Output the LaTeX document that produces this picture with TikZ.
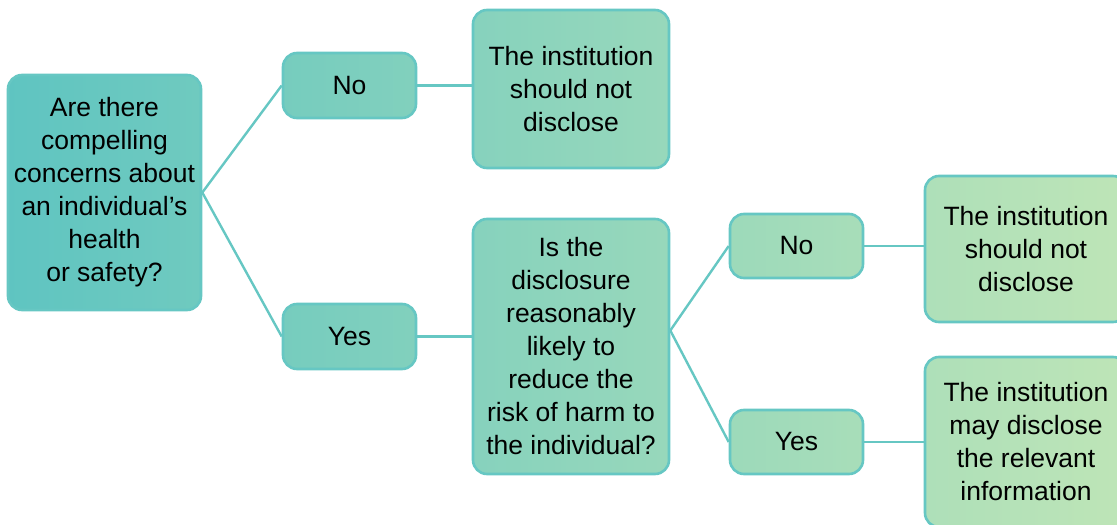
\documentclass[tikz,border=0pt]{standalone}
\usepackage{fontspec}
\setmainfont{Liberation Sans}
\definecolor{gradA}{HTML}{5EC4C1}
\definecolor{gradB}{HTML}{BEE5B7}
\definecolor{edge}{HTML}{66C7C3}
\begin{document}
\begin{tikzpicture}[x=1pt, y=-1pt,
  box/.style={draw=edge, line width=2.6pt, rounded corners=14pt, align=center,
    inner sep=0pt, font=\fontsize{26.5}{33}\selectfont},
  grad/.style 2 args={left color=gradB!#1!gradA, right color=gradB!#2!gradA},
  link/.style={draw=edge, line width=2.4pt}]
  \useasboundingbox (0,0) rectangle (1117,525);
  \clip (0,0) rectangle (1117,525);
  \node[box, grad={1}{18}, minimum width=193pt, minimum height=235pt] (q1) at (104.5,192.5)
    {Are there\\compelling\\concerns about\\an individual’s\\health\\or safety?};
  \node[box, grad={25}{37}, minimum width=133pt, minimum height=65pt] (no1) at (349.5,85.5) {No};
  \node[box, grad={25}{37}, minimum width=133pt, minimum height=65pt] (yes1) at (349.5,336.5) {Yes};
  \node[box, grad={42}{60}, minimum width=196pt, minimum height=158pt] (r1) at (571,89)
    {The institution\\should not\\disclose};
  \node[box, grad={42}{60}, minimum width=196pt, minimum height=255pt] (q2) at (571,346.5)
    {Is the\\disclosure\\reasonably\\likely to\\reduce the\\risk of harm to\\the individual?};
  \node[box, grad={65}{77}, minimum width=133pt, minimum height=64pt] (no2) at (796.5,246) {No};
  \node[box, grad={65}{77}, minimum width=133pt, minimum height=64pt] (yes2) at (796.5,442) {Yes};
  \node[box, grad={83}{100}, minimum width=202pt, minimum height=146pt] (r2) at (1026,249)
    {The institution\\should not\\disclose};
  \node[box, grad={83}{100}, minimum width=202pt, minimum height=170pt] (r3) at (1026,442)
    {The institution\\may disclose\\the relevant\\information};
  \coordinate (q2j) at ([yshift=16pt]q2.east);
  \draw[link] (no1.west) -- (q1.east) -- (yes1.west);
  \draw[link] (no1.east) -- (no1.east -| r1.west);
  \draw[link] (yes1.east) -- (yes1.east -| q2.west);
  \draw[link] (no2.west) -- (q2j) -- (yes2.west);
  \draw[link] (no2.east) -- (no2.east -| r2.west);
  \draw[link] (yes2.east) -- (yes2.east -| r3.west);
\end{tikzpicture}
\end{document}
